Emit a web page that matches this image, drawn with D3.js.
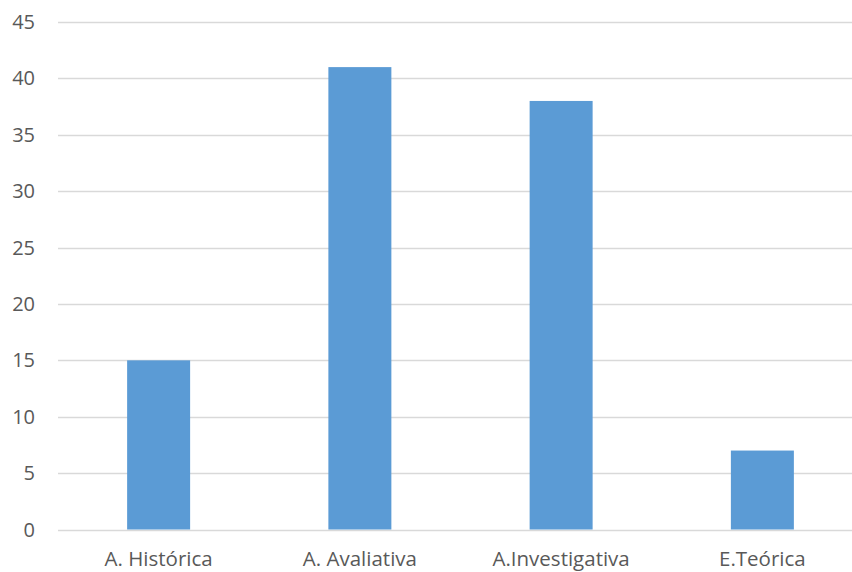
<!DOCTYPE html>
<html><head><meta charset="utf-8">
<script src="https://cdn.jsdelivr.net/npm/d3@7"></script>
<style>html,body{margin:0;padding:0;background:#fff;}</style>
</head><body>
<script>
const categories = ["A. Histórica", "A. Avaliativa", "A.Investigativa", "E.Teórica"];
const values = [15, 41, 38, 7];
const yTicks = [0, 5, 10, 15, 20, 25, 30, 35, 40, 45];

(function () {
const W = 852, H = 572;
const mLeft = 58, mRight = 863, mTop = 22, mBottom = 529.5;
const svg = d3.select("body").append("svg").attr("width", W).attr("height", H);

const x = d3.scaleBand().domain(categories).range([mLeft, mRight]).paddingInner(0.687).paddingOuter(0.3435);
const y = d3.scaleLinear().domain([0, 45]).range([mBottom, mTop]);

const font = "'Open Sans', sans-serif";
svg.append("g").selectAll("line").data(yTicks).join("line")
  .attr("x1", mLeft).attr("x2", W).attr("y1", d => Math.round(y(d)) + 0.5).attr("y2", d => Math.round(y(d)) + 0.5)
  .attr("stroke", "#d9d9d9").attr("stroke-width", 1.3);

svg.append("g").selectAll("text").data(yTicks).join("text")
  .attr("x", 35).attr("y", d => y(d)).attr("dy", "0.35em").attr("text-anchor", "end")
  .attr("font-family", font).attr("font-size", 20).attr("fill", "#595959").text(d => d);

svg.append("g").selectAll("rect").data(values).join("rect")
  .attr("x", (d, i) => x(categories[i])).attr("width", x.bandwidth())
  .attr("y", d => y(d)).attr("height", d => y(0) - y(d)).attr("fill", "#5B9BD5");

svg.append("g").selectAll("text").data(categories).join("text")
  .attr("x", d => x(d) + x.bandwidth() / 2).attr("y", 566).attr("text-anchor", "middle")
  .attr("font-family", font).attr("font-size", 20.5).attr("fill", "#595959").text(d => d);
})();
</script>
</body></html>
